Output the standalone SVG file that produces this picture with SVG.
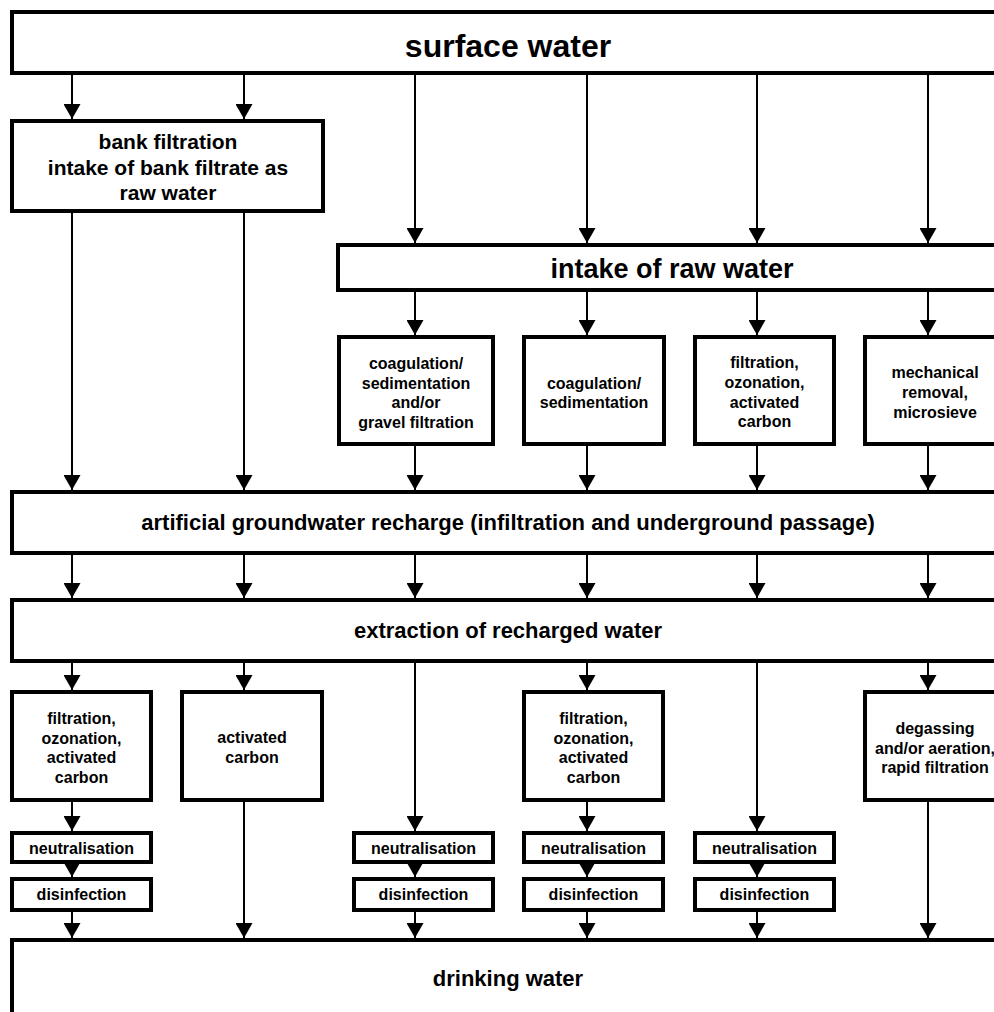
<svg xmlns="http://www.w3.org/2000/svg" width="994" height="1012" viewBox="0 0 994 1012">
<defs>
<style>
.box{fill:#fff;stroke:#000;stroke-width:4}
.ln{stroke:#000;stroke-width:2;fill:none;marker-end:url(#ah)}
text{font-family:"Liberation Sans",Arial,sans-serif;font-weight:bold;fill:#000;text-anchor:middle}
.t32{font-size:32px}
.t27{font-size:27px}
.t22{font-size:22px}
.t21{font-size:21px}
.t16{font-size:16px}
</style>
<marker id="ah" viewBox="0 0 15 17" refX="15" refY="8.5" markerWidth="15" markerHeight="17" markerUnits="userSpaceOnUse" orient="auto">
<path d="M0,0 L15,8.5 L0,17 z" fill="#000"/>
</marker>
</defs>
<rect width="994" height="1012" fill="#fff"/>
<g id="connectors">
<line class="ln" x1="72" y1="74" x2="72" y2="119"/>
<line class="ln" x1="244" y1="74" x2="244" y2="119"/>
<line class="ln" x1="415" y1="74" x2="415" y2="243"/>
<line class="ln" x1="587" y1="74" x2="587" y2="243"/>
<line class="ln" x1="757" y1="74" x2="757" y2="243"/>
<line class="ln" x1="928" y1="74" x2="928" y2="243"/>
<line class="ln" x1="72" y1="212" x2="72" y2="490"/>
<line class="ln" x1="244" y1="212" x2="244" y2="490"/>
<line class="ln" x1="415" y1="291" x2="415" y2="335"/>
<line class="ln" x1="587" y1="291" x2="587" y2="335"/>
<line class="ln" x1="757" y1="291" x2="757" y2="335"/>
<line class="ln" x1="928" y1="291" x2="928" y2="335"/>
<line class="ln" x1="415" y1="445" x2="415" y2="490"/>
<line class="ln" x1="587" y1="445" x2="587" y2="490"/>
<line class="ln" x1="757" y1="445" x2="757" y2="490"/>
<line class="ln" x1="928" y1="445" x2="928" y2="490"/>
<line class="ln" x1="72" y1="554" x2="72" y2="598"/>
<line class="ln" x1="244" y1="554" x2="244" y2="598"/>
<line class="ln" x1="415" y1="554" x2="415" y2="598"/>
<line class="ln" x1="587" y1="554" x2="587" y2="598"/>
<line class="ln" x1="757" y1="554" x2="757" y2="598"/>
<line class="ln" x1="928" y1="554" x2="928" y2="598"/>
<line class="ln" x1="72" y1="662" x2="72" y2="690"/>
<line class="ln" x1="244" y1="662" x2="244" y2="690"/>
<line class="ln" x1="415" y1="662" x2="415" y2="831"/>
<line class="ln" x1="587" y1="662" x2="587" y2="690"/>
<line class="ln" x1="757" y1="662" x2="757" y2="831"/>
<line class="ln" x1="928" y1="662" x2="928" y2="690"/>
<line class="ln" x1="72" y1="801" x2="72" y2="831"/>
<line class="ln" x1="587" y1="801" x2="587" y2="831"/>
<line class="ln" x1="72" y1="860" x2="72" y2="877"/>
<line class="ln" x1="415" y1="860" x2="415" y2="877"/>
<line class="ln" x1="587" y1="860" x2="587" y2="877"/>
<line class="ln" x1="757" y1="860" x2="757" y2="877"/>
<line class="ln" x1="72" y1="911" x2="72" y2="938"/>
<line class="ln" x1="415" y1="911" x2="415" y2="938"/>
<line class="ln" x1="587" y1="911" x2="587" y2="938"/>
<line class="ln" x1="757" y1="911" x2="757" y2="938"/>
<line class="ln" x1="244" y1="801" x2="244" y2="938"/>
<line class="ln" x1="928" y1="801" x2="928" y2="938"/>
</g>
<g id="surface-water">
<rect class="box" x="12" y="12" width="995" height="61"/>
<text class="t32" x="508" y="57">surface water</text>
</g>
<g id="bank-filtration">
<rect class="box" x="12" y="121" width="311" height="90"/>
<text class="t21" x="168" y="149">bank filtration</text>
<text class="t21" x="168" y="175">intake of bank filtrate as</text>
<text class="t21" x="168" y="200">raw water</text>
</g>
<g id="intake-raw-water">
<rect class="box" x="338" y="245" width="670" height="45"/>
<text class="t27" x="672" y="278">intake of raw water</text>
</g>
<g id="coag-gravel">
<rect class="box" x="339" y="337" width="154" height="107"/>
<text class="t16" x="416" y="369">coagulation/</text>
<text class="t16" x="416" y="389">sedimentation</text>
<text class="t16" x="416" y="408">and/or</text>
<text class="t16" x="416" y="428">gravel filtration</text>
</g>
<g id="coag-sed">
<rect class="box" x="524" y="337" width="140" height="107"/>
<text class="t16" x="594" y="389">coagulation/</text>
<text class="t16" x="594" y="408">sedimentation</text>
</g>
<g id="filt-ozon-1">
<rect class="box" x="695" y="337" width="139" height="107"/>
<text class="t16" x="764.5" y="368">filtration,</text>
<text class="t16" x="764.5" y="388">ozonation,</text>
<text class="t16" x="764.5" y="408">activated</text>
<text class="t16" x="764.5" y="427">carbon</text>
</g>
<g id="mechanical">
<rect class="box" x="865" y="337" width="140" height="107"/>
<text class="t16" x="935" y="378">mechanical</text>
<text class="t16" x="935" y="398">removal,</text>
<text class="t16" x="935" y="418">microsieve</text>
</g>
<g id="groundwater-recharge">
<rect class="box" x="12" y="492" width="995" height="61"/>
<text class="t22" x="508" y="530">artificial groundwater recharge (infiltration and underground passage)</text>
</g>
<g id="extraction">
<rect class="box" x="12" y="600" width="995" height="61"/>
<text class="t22" x="508" y="638">extraction of recharged water</text>
</g>
<g id="filt-ozon-2">
<rect class="box" x="12" y="692" width="139" height="108"/>
<text class="t16" x="81.5" y="724">filtration,</text>
<text class="t16" x="81.5" y="743.5">ozonation,</text>
<text class="t16" x="81.5" y="763">activated</text>
<text class="t16" x="81.5" y="782.5">carbon</text>
</g>
<g id="activated-carbon">
<rect class="box" x="182" y="692" width="140" height="108"/>
<text class="t16" x="252" y="743">activated</text>
<text class="t16" x="252" y="763">carbon</text>
</g>
<g id="filt-ozon-3">
<rect class="box" x="524" y="692" width="139" height="108"/>
<text class="t16" x="593.5" y="724">filtration,</text>
<text class="t16" x="593.5" y="743.5">ozonation,</text>
<text class="t16" x="593.5" y="763">activated</text>
<text class="t16" x="593.5" y="782.5">carbon</text>
</g>
<g id="degassing">
<rect class="box" x="865" y="692" width="140" height="108"/>
<text class="t16" x="935" y="734">degassing</text>
<text class="t16" x="935" y="754">and/or aeration,</text>
<text class="t16" x="935" y="773">rapid filtration</text>
</g>
<g id="neut-1">
<rect class="box" x="12" y="833" width="139" height="29"/>
<text class="t16" x="81.5" y="853.5">neutralisation</text>
</g>
<g id="neut-2">
<rect class="box" x="354" y="833" width="139" height="29"/>
<text class="t16" x="423.5" y="853.5">neutralisation</text>
</g>
<g id="neut-3">
<rect class="box" x="524" y="833" width="139" height="29"/>
<text class="t16" x="593.5" y="853.5">neutralisation</text>
</g>
<g id="neut-4">
<rect class="box" x="695" y="833" width="139" height="29"/>
<text class="t16" x="764.5" y="853.5">neutralisation</text>
</g>
<g id="dis-1">
<rect class="box" x="12" y="879" width="139" height="31"/>
<text class="t16" x="81.5" y="900">disinfection</text>
</g>
<g id="dis-2">
<rect class="box" x="354" y="879" width="139" height="31"/>
<text class="t16" x="423.5" y="900">disinfection</text>
</g>
<g id="dis-3">
<rect class="box" x="524" y="879" width="139" height="31"/>
<text class="t16" x="593.5" y="900">disinfection</text>
</g>
<g id="dis-4">
<rect class="box" x="695" y="879" width="139" height="31"/>
<text class="t16" x="764.5" y="900">disinfection</text>
</g>
<g id="drinking-water">
<rect class="box" x="12" y="940" width="995" height="100"/>
<text class="t22" x="508" y="986">drinking water</text>
</g>
</svg>
